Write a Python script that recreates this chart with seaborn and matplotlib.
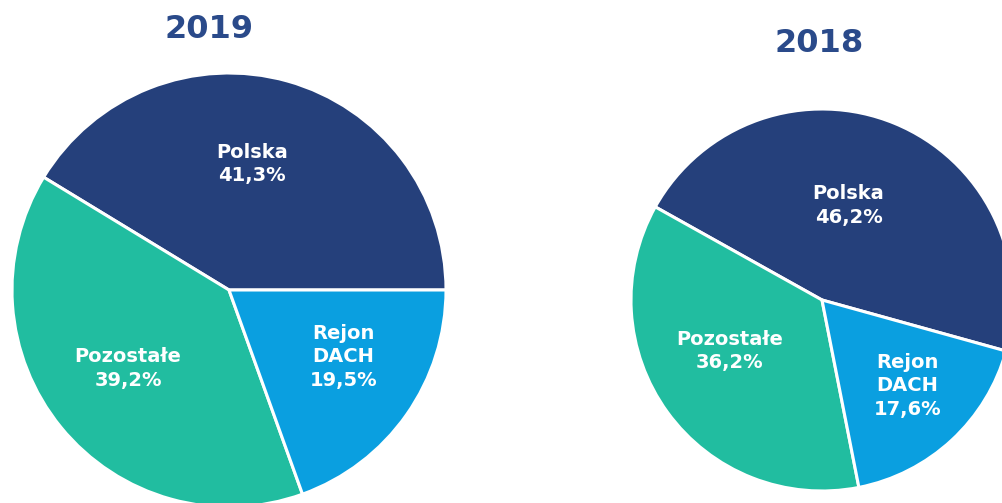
import numpy as np
import matplotlib
matplotlib.use("Agg")
import matplotlib.pyplot as plt
import seaborn as sns

# Revenue structure by region
regions = ["Polska", "Pozostałe", "Rejon\nDACH"]
share_2019 = [41.3, 39.2, 19.5]
share_2018 = [46.2, 36.2, 17.6]
years = ["2019", "2018"]

sns.set_theme(style="white")
plt.rcParams['font.family'] = ['DejaVu Sans']

colors = ["#25407b", "#21bda0", "#0a9fe0"]
title_color = "#2a4a8a"

W, H = 1002, 503
fig = plt.figure(figsize=(W / 100, H / 100), dpi=100)
fig.patch.set_facecolor("white")


def fmt(name, val):
    return f"{name}\n{val:.1f}%".replace(".", ",")


# (center x, center y from top, radius) in pixels, start angle,
# label nudges (degrees) and label distances per wedge
layouts = [
    (229, 290, 217, 0, [5.4, -1.3, 4.7], [0.59, 0.59, 0.61]),
    (822, 300, 191, -15.5, [6.7, -7.0, 2.0], [0.515, 0.553, 0.633]),
]
title_pos = [(209, 29), (819, 44)]

for (cx, cy, r, start, nudges, dists), shares, year, (tx, ty) in zip(
        layouts, [share_2019, share_2018], years, title_pos):
    ax = fig.add_axes([(cx - r) / W, (H - cy - r) / H, 2 * r / W, 2 * r / H])
    wedges, _ = ax.pie(
        shares, colors=colors, startangle=start, counterclock=True,
        wedgeprops={"edgecolor": "white", "linewidth": 2.2},
    )
    for w, name, val, nd, d in zip(wedges, regions, shares, nudges, dists):
        w.set_clip_on(False)
        ang = np.deg2rad((w.theta1 + w.theta2) / 2 + nd)
        ax.text(d * np.cos(ang), d * np.sin(ang), fmt(name, val),
                ha="center", va="center", color="white", fontsize=14,
                fontweight="bold", linespacing=1.3)
    ax.set_xlim(-1, 1)
    ax.set_ylim(-1, 1)
    ax.axis("off")
    fig.text(tx / W, 1 - ty / H, year, ha="center", va="center",
             fontsize=23, fontweight="bold", color=title_color)

fig.savefig("out.png", dpi=100)
